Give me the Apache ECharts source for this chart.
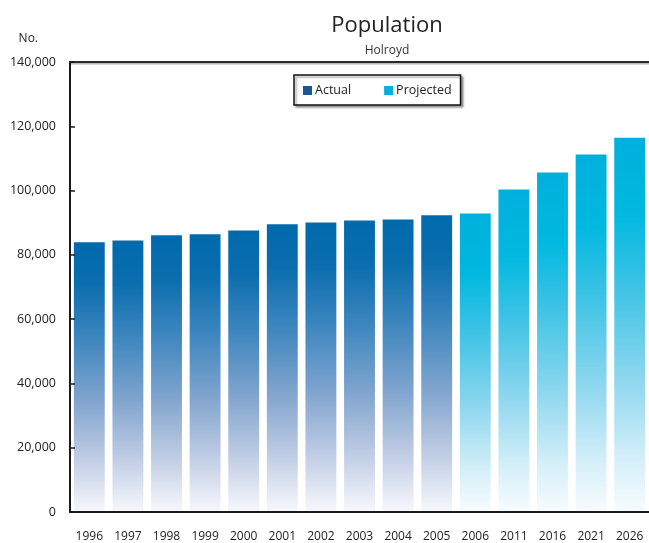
<!DOCTYPE html>
<html>
<head>
<meta charset="utf-8">
<script src="https://cdn.jsdelivr.net/npm/echarts@6/dist/echarts.min.js"></script>
<style>html,body{margin:0;padding:0;background:#fff}#c{width:649px;height:543px}</style>
</head>
<body>
<div id="c"></div>
<script>
const categories = ['1996','1997','1998','1999','2000','2001','2002','2003','2004','2005','2006','2011','2016','2021','2026'];
const actual = [83900, 84500, 86100, 86400, 87600, 89500, 90100, 90700, 91000, 92300, null, null, null, null, null];
const projected = [null, null, null, null, null, null, null, null, null, null, 92900, 100300, 105600, 111200, 116400];
const yTicks = [0, 20000, 40000, 60000, 80000, 100000, 120000, 140000];

const FONT = 'Open Sans';
const chart = echarts.init(document.getElementById('c'), null, {renderer: 'canvas'});

const gradActual = new echarts.graphic.LinearGradient(0, 0, 0, 1, [
  {offset: 0, color: '#006aad'},
  {offset: 0.15, color: '#0a6dae'},
  {offset: 0.35, color: '#3b85be'},
  {offset: 0.6, color: '#84a6cf'},
  {offset: 0.8, color: '#bfcce4'},
  {offset: 1, color: '#f7f8fc'}
]);
const gradProj = new echarts.graphic.LinearGradient(0, 0, 0, 1, [
  {offset: 0, color: '#00b0dc'},
  {offset: 0.2, color: '#00b8e0'},
  {offset: 0.4, color: '#3ec3e5'},
  {offset: 0.65, color: '#8fd7ef'},
  {offset: 0.85, color: '#d2eef8'},
  {offset: 1, color: '#f8fcfe'}
]);

const axisLineStyle = {color: '#1a1a1a', width: 2};

chart.setOption({
  animation: false,
  textStyle: {fontFamily: FONT},
  title: {
    text: 'Population',
    subtext: 'Holroyd',
    left: 382,
    textAlign: 'center',
    top: 10,
    itemGap: 8,
    textStyle: {fontFamily: FONT, fontSize: 22, fontWeight: 'normal', color: '#222'},
    subtextStyle: {fontFamily: FONT, fontSize: 12, color: '#333'}
  },
  legend: {
    left: 294,
    top: 75,
    orient: 'horizontal',
    itemWidth: 9,
    itemHeight: 9,
    itemGap: 33,
    padding: [9, 9, 8, 9],
    borderColor: '#111',
    borderWidth: 1.5,
    shadowColor: 'rgba(0,0,0,0.35)',
    shadowOffsetX: 2,
    shadowOffsetY: 2,
    shadowBlur: 2,
    backgroundColor: '#fff',
    textStyle: {fontFamily: FONT, fontSize: 12.5, color: '#222', padding: [0, 0, 0, -2]},
    data: [
      {name: 'Actual', icon: 'rect', itemStyle: {color: '#1a5894'}},
      {name: 'Projected', icon: 'rect', itemStyle: {color: '#00b0dc'}}
    ]
  },
  grid: {
    left: 70, top: 62, right: 0, bottom: 30,
    show: false,
    containLabel: false
  },
  xAxis: [{
    type: 'category',
    data: categories,
    z: 10,
    axisLine: {show: true, lineStyle: axisLineStyle},
    axisTick: {show: false},
    splitLine: {show: false},
    axisLabel: {fontFamily: FONT, fontSize: 12, color: '#222', margin: 19, interval: 0}
  }, {
    type: 'category',
    data: categories,
    position: 'top',
    z: 10,
    axisLine: {show: true, lineStyle: {color: '#2a2a2a', width: 2, shadowColor: 'rgba(0,0,0,0.3)', shadowOffsetY: 1.5, shadowBlur: 1}},
    axisTick: {show: false},
    axisLabel: {show: false},
    splitLine: {show: false}
  }],
  yAxis: {
    type: 'value',
    min: 0, max: 140000, interval: 20000,
    z: 10,
    name: 'No.',
    nameLocation: 'end',
    nameGap: 17,
    nameTextStyle: {fontFamily: FONT, fontSize: 12, color: '#222', align: 'right', padding: [0, 32, 0, 0]},
    axisLine: {show: true, lineStyle: axisLineStyle},
    axisTick: {show: true, inside: true, length: 5, lineStyle: {color: '#1a1a1a', width: 1.5}},
    splitLine: {show: false},
    axisLabel: {
      fontFamily: FONT, fontSize: 12.5, color: '#222', margin: 14,
      formatter: v => yTicks.includes(v) ? v.toLocaleString('en-US') : ''
    }
  },
  series: [
    {name: 'Actual', type: 'bar', data: actual, barWidth: '80%', barGap: '-100%', itemStyle: {color: gradActual}},
    {name: 'Projected', type: 'bar', data: projected, barWidth: '80%', barGap: '-100%', itemStyle: {color: gradProj}}
  ]
});
</script>
</body>
</html>
